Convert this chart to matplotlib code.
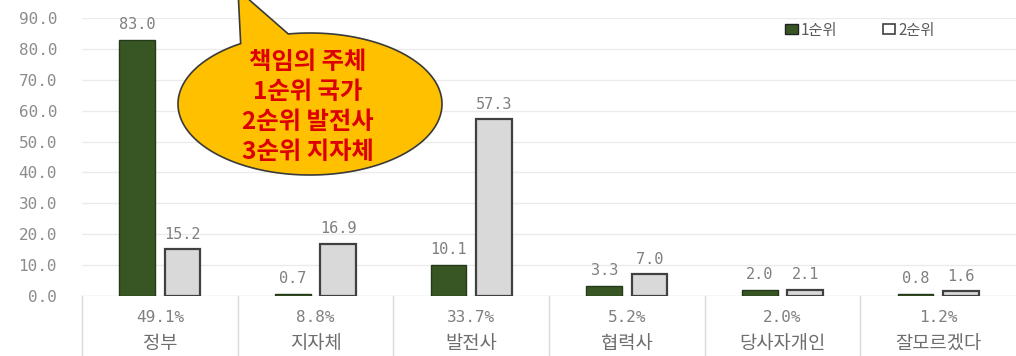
import numpy as np
import matplotlib
matplotlib.use("Agg")
import matplotlib.pyplot as plt
from matplotlib.patches import Patch, Polygon
from matplotlib.lines import Line2D
import matplotlib.transforms as mtransforms

plt.rcParams['font.family'] = ['Noto Sans CJK KR', 'DejaVu Sans']

# ── data ─────────────────────────────────────────────
categories = ['정부', '지자체', '발전사', '협력사', '당사자개인', '잘모르겠다']
shares     = ['49.1%', '8.8%', '33.7%', '5.2%', '2.0%', '1.2%']
rank1      = [83.0, 0.7, 10.1, 3.3, 2.0, 0.8]
rank2      = [15.2, 16.9, 57.3, 7.0, 2.1, 1.6]
series     = ['1순위', '2순위']
yticks     = [0, 10, 20, 30, 40, 50, 60, 70, 80, 90]
callout    = '책임의 주체\n1순위 국가\n2순위 발전사\n3순위 지자체'

DARK  = '#375623'
LIGHT = '#D9D9D9'
GRAY  = '#7F7F7F'
MONO  = 'DejaVu Sans Mono'

W, H = 1016, 356
fig = plt.figure(figsize=(W / 100, H / 100), dpi=100)
ax = fig.add_axes([82 / W, 1 - 296 / H, 1 - 82 / W, (296 - 18) / H])

x = np.arange(len(categories))
bw, off = 0.23, 0.145
ax.bar(x - off, rank1, bw, color=DARK, edgecolor='#26391A', lw=1.0, zorder=3)
ax.bar(x + off, rank2, bw, color=LIGHT, edgecolor='#404040', lw=1.6, zorder=3)

for xi, v in zip(x, rank1):
    ax.text(xi - off, v + 2.4, f"{v:.1f}", ha='center', va='bottom',
            fontsize=11, color=GRAY, family=MONO)
for xi, v in zip(x, rank2):
    ax.text(xi + off, v + 2.4, f"{v:.1f}", ha='center', va='bottom',
            fontsize=11, color=GRAY, family=MONO)

ax.set_xlim(-0.5, len(categories) - 0.5)
ax.set_ylim(0, 90)
ax.set_yticks(yticks)
ax.set_yticklabels([f"{t:.1f}" for t in yticks], family=MONO,
                   fontsize=11.5, color='#8C8C8C')
ax.tick_params(axis='y', length=0, pad=18)
ax.set_xticks([])
for s in ax.spines.values():
    s.set_visible(False)
ax.grid(True, axis='y', color='#EBEBEB', lw=1.0, zorder=0)
ax.axhline(0, color='#E6E6E6', lw=1.0, zorder=1)

# ── table under the axis ─────────────────────────────
tr = mtransforms.blended_transform_factory(ax.transData, fig.transFigure)
for b in np.arange(-0.5, len(categories) - 0.5, 1.0):
    fig.add_artist(Line2D([b, b], [0, 1 - 296 / H], transform=tr,
                          color='#D9D9D9', lw=1.0))
for xi, sh, cat in zip(x, shares, categories):
    fig.text(xi, 1 - 317 / H, sh, transform=tr, ha='center', va='center',
             fontsize=11.5, color=GRAY, family=MONO)
    fig.text(xi, 1 - 344 / H, cat, transform=tr, ha='center', va='center',
             fontsize=13.5, color='#6E6E6E')

# ── legend ───────────────────────────────────────────
handles = [Patch(facecolor=DARK, edgecolor='#222222', lw=1.0),
           Patch(facecolor='white', edgecolor='#404040', lw=1.2)]
fig.legend(handles, series, loc='center', bbox_to_anchor=(860 / W, 1 - 30 / H),
           ncol=2, frameon=False, fontsize=11, handlelength=0.8,
           handleheight=0.55, handletextpad=0.2, columnspacing=3.0,
           labelcolor='#595959')

# ── speech bubble ────────────────────────────────────
cx, cy, a, b = 310, 104, 132, 71
lb, rb, tip = (240, 43), (288, 33), (238, -10)
t0 = np.arctan2((rb[1] - cy) / b, (rb[0] - cx) / a)
t1 = np.arctan2((lb[1] - cy) / b, (lb[0] - cx) / a) + 2 * np.pi
th = np.linspace(t0, t1, 200)
px = np.concatenate([cx + a * np.cos(th), [tip[0]]])
py = np.concatenate([cy + b * np.sin(th), [tip[1]]])
pts = np.column_stack([px / W, 1 - py / H])
fig.add_artist(Polygon(pts, closed=True, transform=fig.transFigure,
                       facecolor='#FFC000', edgecolor='#3A3A3A', lw=1.2,
                       zorder=5))
fig.text(308 / W, 1 - 107 / H, callout, ha='center', va='center',
         fontsize=17.5, fontweight='bold', color='#DD0000', linespacing=1.3,
         zorder=6)

fig.savefig('out.png', dpi=100)
